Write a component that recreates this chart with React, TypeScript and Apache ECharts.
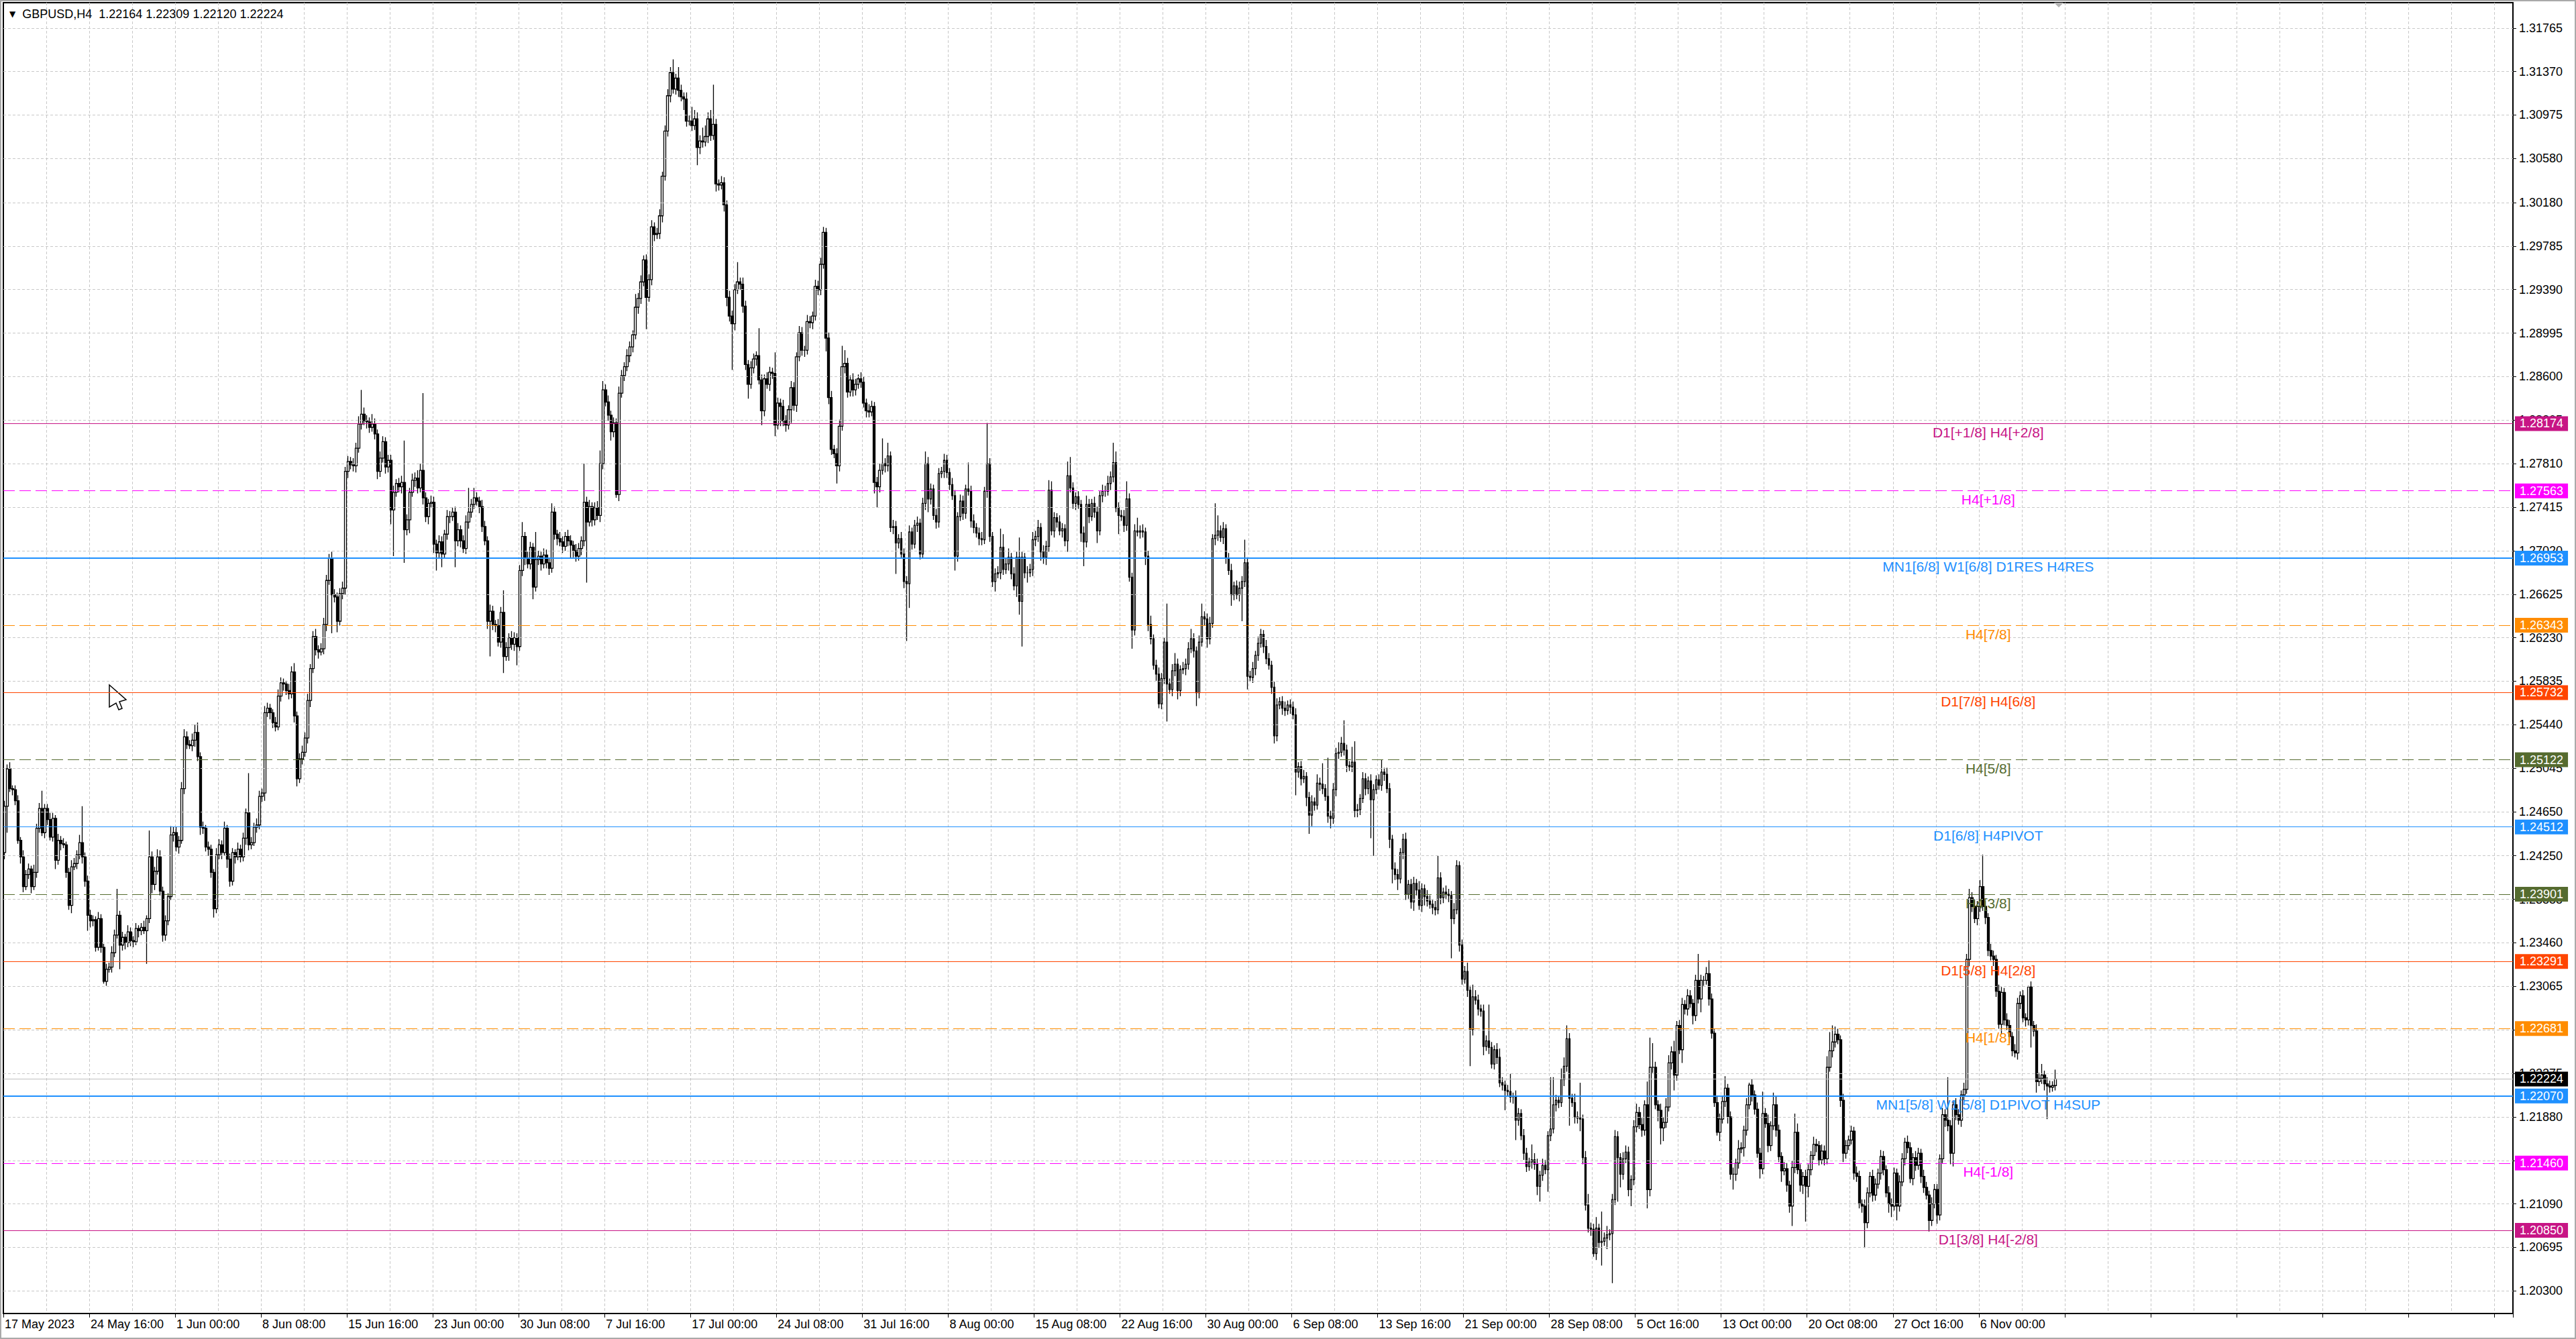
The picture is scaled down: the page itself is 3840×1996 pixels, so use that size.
import React, { useEffect, useRef } from 'react';
import * as echarts from 'echarts';

// GBPUSD H4, one candle per 4 hours from 17 May 2023 08:00.
// Prices are stored in pips above 1.20000 (470 = 1.24700). Open of a bar = close of the bar before.
const firstOpenPips = 428;

// one row = 16 bars (one vertical grid cell)
const closePips = [
  470, 504, 486, 485, 475, 439, 424, 397, 408, 413, 397, 410, 450, 468, 446, 468,
  458, 442, 459, 421, 439, 436, 435, 410, 380, 415, 418, 426, 437, 424, 402, 371,
  366, 367, 342, 368, 342, 311, 322, 324, 337, 353, 371, 344, 351, 346, 356, 348,
  347, 359, 357, 360, 357, 368, 424, 399, 411, 424, 393, 353, 366, 388, 444, 446,
  433, 439, 486, 533, 526, 525, 530, 537, 515, 451, 450, 433, 431, 410, 377, 426,
  435, 428, 450, 422, 402, 428, 424, 431, 424, 441, 464, 435, 437, 451, 453, 479,
  482, 555, 559, 555, 546, 542, 570, 582, 581, 575, 572, 592, 552, 495, 513, 519,
  532, 566, 595, 624, 612, 610, 613, 635, 675, 695, 662, 660, 638, 663, 668, 774,
  783, 780, 779, 795, 817, 826, 820, 819, 814, 817, 808, 774, 786, 801, 778, 784,
  739, 755, 763, 760, 764, 721, 730, 755, 766, 768, 759, 775, 750, 733, 745, 746,
  708, 700, 710, 699, 717, 733, 733, 737, 711, 721, 711, 704, 728, 737, 744, 750,
  747, 742, 724, 711, 638, 647, 635, 634, 619, 646, 606, 614, 623, 617, 623, 615,
  684, 715, 695, 690, 705, 669, 694, 697, 690, 698, 691, 686, 737, 717, 713, 710,
  706, 715, 711, 707, 702, 697, 704, 711, 746, 728, 742, 730, 741, 734, 781, 848,
  837, 825, 810, 818, 753, 845, 861, 869, 879, 887, 898, 923, 931, 946, 966, 932,
  948, 996, 989, 990, 1006, 1042, 1083, 1115, 1136, 1121, 1131, 1120, 1114, 1112, 1092, 1092,
  1088, 1094, 1068, 1074, 1073, 1078, 1094, 1079, 1089, 1035, 1034, 1036, 1016, 932, 915, 908,
  939, 946, 944, 924, 871, 853, 868, 876, 879, 857, 829, 858, 853, 864, 863, 816,
  836, 833, 820, 816, 830, 850, 834, 878, 900, 884, 884, 910, 909, 915, 942, 939,
  962, 991, 895, 841, 794, 790, 779, 815, 869, 872, 846, 857, 848, 853, 858, 855,
  836, 829, 828, 833, 764, 760, 775, 781, 779, 788, 723, 724, 709, 713, 699, 674,
  672, 719, 708, 725, 727, 699, 745, 781, 749, 758, 734, 728, 772, 774, 784, 773,
  762, 752, 697, 733, 747, 736, 758, 756, 729, 723, 718, 713, 712, 756, 781, 715,
  674, 681, 682, 705, 685, 690, 696, 681, 670, 696, 656, 696, 682, 682, 685, 712,
  715, 723, 701, 696, 706, 757, 720, 732, 728, 720, 722, 711, 770, 759, 745, 751,
  744, 718, 710, 744, 733, 745, 737, 720, 752, 756, 756, 763, 769, 782, 741, 734,
  733, 725, 749, 678, 630, 720, 719, 720, 719, 697, 635, 622, 598, 590, 563, 586,
  619, 581, 576, 593, 599, 575, 594, 595, 599, 613, 622, 611, 573, 619, 642, 640,
  622, 636, 713, 716, 720, 714, 722, 695, 684, 662, 670, 662, 668, 674, 691, 588,
  587, 595, 607, 618, 626, 615, 604, 598, 578, 534, 562, 565, 559, 557, 562, 560,
  553, 501, 506, 495, 497, 478, 462, 474, 471, 491, 490, 486, 479, 461, 459, 485,
  518, 519, 527, 521, 507, 506, 510, 466, 467, 477, 495, 486, 493, 476, 485, 494,
  489, 501, 499, 486, 440, 413, 408, 404, 428, 440, 390, 399, 383, 400, 394, 380,
  395, 388, 384, 381, 378, 376, 405, 387, 392, 390, 389, 368, 376, 416, 344, 313,
  320, 303, 267, 297, 294, 286, 284, 252, 257, 251, 236, 249, 242, 219, 217, 212,
  211, 206, 206, 185, 191, 171, 155, 143, 147, 149, 145, 125, 135, 144, 140, 171,
  177, 199, 203, 201, 222, 234, 259, 205, 201, 188, 187, 186, 151, 108, 87, 86,
  64, 87, 74, 75, 78, 81, 82, 113, 170, 151, 136, 150, 156, 122, 131, 179,
  192, 181, 176, 199, 122, 233, 233, 199, 194, 178, 183, 197, 237, 247, 226, 271,
  249, 290, 286, 298, 291, 280, 312, 295, 312, 312, 318, 295, 264, 201, 174, 186,
  202, 214, 188, 136, 136, 146, 159, 160, 176, 199, 217, 208, 195, 155, 141, 191,
  182, 162, 180, 199, 176, 152, 139, 141, 126, 107, 142, 174, 140, 126, 134, 125,
  140, 153, 163, 162, 149, 157, 150, 233, 248, 256, 263, 258, 203, 155, 162, 167,
  175, 137, 134, 109, 107, 92, 119, 134, 117, 127, 137, 152, 140, 119, 109, 107,
  137, 107, 129, 150, 165, 160, 132, 151, 144, 155, 134, 124, 117, 94, 109, 122,
  99, 150, 190, 185, 180, 155, 199, 190, 185, 208, 213, 331, 387, 379, 368, 379,
  397, 379, 369, 339, 334, 331, 302, 272, 301, 276, 271, 261, 248, 246, 291, 298,
  278, 276, 306, 271, 266, 220, 223, 226, 218, 216, 215, 216.4, 222.4,
];

// high = max(open, close) + upper wick, low = min(open, close) - lower wick (pips)
const upWickPips = [
  5, 4, 6, 3, 4, 5, 3, 6, 4, 5, 3, 7, 4, 5, 16, 4,
  4, 6, 5, 3, 6, 4, 5, 3, 4, 6, 5, 4, 7, 33, 4, 5,
  5, 4, 3, 6, 4, 3, 5, 4, 6, 5, 24, 4, 5, 3, 6, 4,
  4, 5, 3, 4, 6, 3, 24, 5, 4, 7, 6, 4, 5, 3, 8, 5,
  5, 4, 6, 7, 5, 4, 6, 7, 9, 4, 5, 3, 5, 4, 3, 6,
  5, 4, 6, 3, 5, 4, 3, 6, 4, 5, 4, 36, 5, 4, 6, 5,
  4, 6, 5, 4, 3, 5, 6, 5, 4, 3, 6, 5, 8, 4, 5, 6,
  5, 6, 4, 5, 7, 4, 5, 6, 5, 4, 6, 5, 4, 5, 6, 4,
  5, 4, 6, 5, 7, 22, 6, 5, 4, 9, 5, 4, 6, 5, 4, 5,
  5, 6, 4, 5, 6, 38, 5, 4, 6, 5, 7, 6, 70, 5, 4, 6,
  5, 4, 6, 5, 4, 6, 5, 4, 5, 6, 4, 5, 6, 22, 5, 9,
  5, 4, 6, 5, 4, 6, 5, 4, 6, 5, 20, 5, 4, 6, 5, 4,
  5, 13, 4, 6, 5, 4, 25, 5, 4, 6, 5, 4, 8, 5, 4, 6,
  5, 4, 6, 5, 4, 6, 5, 4, 35, 5, 6, 4, 5, 6, 12, 8,
  5, 6, 4, 5, 4, 6, 5, 4, 6, 5, 4, 12, 5, 6, 4, 5,
  5, 6, 4, 5, 6, 4, 5, 6, 5, 12, 4, 10, 5, 4, 6, 5,
  13, 8, 6, 5, 12, 10, 6, 8, 36, 5, 4, 6, 5, 4, 6, 5,
  5, 18, 4, 6, 5, 4, 6, 5, 4, 25, 5, 4, 6, 5, 4, 19,
  5, 4, 6, 5, 4, 6, 5, 4, 6, 5, 4, 6, 5, 4, 6, 5,
  6, 5, 4, 5, 6, 4, 5, 6, 19, 12, 5, 4, 6, 5, 4, 6,
  5, 4, 6, 5, 4, 5, 6, 23, 5, 12, 4, 6, 5, 4, 6, 5,
  5, 6, 4, 5, 6, 4, 5, 11, 6, 5, 4, 6, 5, 4, 6, 5,
  4, 6, 5, 4, 6, 5, 4, 24, 5, 6, 4, 5, 6, 4, 37, 5,
  4, 5, 6, 17, 12, 5, 8, 4, 6, 5, 18, 5, 4, 6, 5, 7,
  5, 7, 4, 6, 5, 9, 8, 5, 4, 6, 5, 4, 13, 17, 5, 4,
  5, 4, 6, 8, 5, 4, 6, 5, 4, 6, 5, 7, 5, 18, 10, 5,
  5, 6, 16, 5, 4, 6, 12, 5, 6, 4, 5, 8, 4, 5, 6, 5,
  4, 35, 5, 6, 10, 5, 4, 6, 5, 6, 9, 5, 4, 6, 12, 5,
  5, 6, 4, 29, 14, 5, 6, 4, 5, 6, 4, 5, 6, 5, 21, 5,
  5, 6, 4, 6, 5, 4, 6, 5, 4, 5, 6, 4, 5, 6, 4, 5,
  5, 6, 4, 5, 6, 4, 5, 6, 4, 8, 5, 19, 4, 35, 5, 6,
  5, 9, 6, 21, 5, 4, 14, 19, 5, 4, 6, 5, 4, 6, 5, 4,
  5, 11, 4, 6, 5, 4, 6, 5, 4, 5, 6, 4, 5, 6, 4, 8,
  5, 4, 6, 5, 4, 6, 20, 5, 4, 6, 5, 4, 6, 5, 4, 5,
  5, 8, 4, 11, 6, 5, 4, 6, 5, 33, 5, 4, 6, 8, 5, 4,
  5, 16, 4, 6, 5, 4, 6, 5, 4, 14, 6, 5, 4, 6, 5, 4,
  47, 25, 5, 4, 10, 8, 12, 5, 4, 8, 5, 32, 4, 6, 10, 5,
  5, 10, 4, 27, 5, 8, 4, 5, 6, 5, 4, 6, 6, 5, 4, 6,
  8, 5, 6, 4, 21, 27, 22, 5, 4, 6, 5, 8, 7, 5, 10, 4,
  5, 6, 4, 6, 5, 4, 5, 24, 5, 4, 6, 12, 5, 4, 6, 5,
  5, 11, 4, 5, 6, 4, 8, 5, 4, 6, 2, 5, 4, 6, 5, 20,
  5, 8, 4, 11, 8, 5, 4, 6, 5, 4, 6, 17, 8, 5, 4, 6,
  5, 4, 7, 5, 4, 6, 5, 10, 17, 15, 7, 5, 4, 6, 5, 4,
  5, 4, 6, 5, 4, 6, 5, 4, 6, 5, 4, 6, 5, 4, 6, 5,
  5, 4, 6, 5, 4, 6, 5, 4, 6, 5, 4, 6, 5, 4, 6, 5,
  5, 4, 6, 5, 39, 5, 4, 6, 5, 4, 6, 5, 8, 5, 6, 5,
  6, 29, 5, 4, 6, 5, 4, 6, 5, 4, 6, 5, 4, 6, 5, 4,
  5, 4, 1, 5, 4, 6, 5, 10, 4, 6, 5, 4, 8.5,
];

const downWickPips = [
  6, 24, 3, 5, 4, 3, 6, 5, 3, 4, 6, 3, 5, 4, 3, 5,
  5, 3, 4, 8, 4, 6, 3, 5, 4, 7, 3, 5, 4, 6, 5, 14,
  6, 5, 4, 3, 5, 2, 4, 3, 5, 4, 3, 22, 5, 6, 4, 5,
  5, 3, 6, 4, 3, 30, 4, 8, 5, 3, 4, 6, 5, 4, 3, 6,
  4, 6, 3, 5, 4, 3, 5, 6, 4, 7, 5, 4, 6, 5, 8, 4,
  4, 6, 3, 8, 5, 4, 6, 3, 5, 4, 6, 5, 4, 3, 5, 4,
  5, 7, 4, 6, 5, 4, 3, 5, 6, 4, 5, 4, 6, 7, 4, 5,
  4, 5, 6, 4, 5, 6, 3, 5, 6, 4, 35, 5, 10, 4, 5, 6,
  6, 4, 5, 6, 4, 5, 4, 6, 5, 4, 5, 7, 5, 4, 6, 5,
  13, 42, 4, 5, 6, 30, 5, 12, 4, 6, 5, 4, 6, 5, 7, 4,
  8, 16, 5, 12, 4, 5, 6, 4, 24, 5, 6, 4, 5, 6, 5, 4,
  4, 6, 5, 4, 7, 32, 5, 6, 4, 5, 15, 4, 12, 5, 6, 17,
  4, 5, 6, 4, 5, 11, 4, 5, 6, 4, 5, 6, 4, 5, 6, 4,
  6, 4, 5, 12, 6, 5, 4, 6, 5, 55, 4, 6, 5, 4, 6, 5,
  4, 5, 8, 5, 3, 6, 4, 5, 4, 6, 5, 4, 6, 5, 4, 29,
  4, 5, 6, 4, 5, 6, 4, 5, 6, 4, 5, 6, 4, 10, 5, 4,
  5, 4, 16, 6, 5, 4, 6, 5, 4, 7, 5, 4, 6, 8, 5, 42,
  6, 4, 5, 6, 5, 13, 4, 5, 6, 4, 13, 5, 4, 6, 5, 10,
  4, 18, 5, 6, 4, 12, 5, 6, 4, 5, 6, 4, 5, 6, 4, 5,
  5, 4, 12, 6, 5, 4, 16, 5, 4, 6, 5, 4, 6, 5, 4, 5,
  4, 6, 5, 4, 10, 19, 5, 4, 6, 5, 4, 6, 28, 5, 4, 6,
  52, 22, 5, 4, 6, 5, 4, 6, 12, 5, 4, 6, 5, 4, 6, 5,
  5, 4, 13, 5, 4, 6, 5, 4, 6, 5, 4, 6, 5, 4, 6, 5,
  5, 9, 4, 6, 5, 4, 6, 5, 4, 10, 12, 41, 5, 9, 4, 6,
  6, 5, 8, 6, 7, 5, 4, 6, 5, 4, 6, 5, 10, 4, 5, 6,
  4, 8, 22, 5, 6, 4, 5, 11, 4, 6, 5, 4, 6, 5, 4, 17,
  4, 6, 5, 4, 17, 5, 4, 6, 5, 8, 6, 5, 4, 6, 4, 5,
  5, 34, 4, 6, 5, 8, 5, 4, 6, 5, 4, 6, 12, 5, 4, 6,
  8, 5, 4, 6, 5, 4, 6, 5, 4, 10, 5, 4, 6, 30, 5, 12,
  4, 5, 6, 5, 4, 6, 5, 4, 6, 7, 5, 4, 6, 5, 4, 6,
  4, 21, 5, 6, 4, 8, 17, 10, 5, 4, 6, 5, 4, 6, 9, 5,
  6, 5, 4, 5, 6, 4, 5, 6, 6, 5, 4, 6, 5, 35, 51, 4,
  4, 5, 6, 4, 8, 13, 5, 10, 4, 6, 5, 4, 6, 8, 5, 4,
  6, 8, 5, 4, 6, 5, 4, 6, 5, 4, 6, 36, 5, 4, 6, 5,
  4, 6, 33, 5, 4, 6, 5, 8, 4, 6, 4, 5, 6, 4, 5, 18,
  4, 5, 6, 18, 5, 4, 6, 5, 4, 6, 5, 8, 14, 5, 4, 20,
  5, 4, 6, 5, 4, 6, 5, 25, 4, 6, 5, 11, 6, 5, 4, 6,
  3, 6, 5, 21, 4, 10, 5, 45, 5, 40, 12, 5, 4, 6, 15, 5,
  5, 4, 6, 5, 17, 6, 5, 4, 10, 15, 12, 5, 4, 6, 14, 5,
  4, 12, 5, 6, 4, 8, 5, 4, 12, 5, 4, 6, 5, 4, 3, 8,
  4, 5, 6, 5, 14, 6, 5, 4, 8, 5, 4, 6, 5, 4, 9, 5,
  4, 6, 5, 4, 6, 5, 10, 4, 6, 6, 18, 5, 4, 6, 8, 32,
  10, 5, 4, 6, 5, 4, 6, 5, 4, 6, 5, 4, 6, 8, 5, 4,
  4, 6, 5, 4, 6, 23, 5, 4, 6, 5, 4, 6, 5, 4, 8, 10,
  4, 13, 5, 4, 6, 5, 4, 6, 5, 4, 6, 5, 4, 10, 5, 4,
  8, 5, 4, 6, 5, 10, 12, 5, 4, 6, 5, 4, 6, 5, 4, 6,
  5, 4, 6, 5, 4, 6, 5, 4, 9, 5, 4, 6, 5, 4, 6, 5,
  4, 6, 5, 20, 5, 10, 4, 5, 6, 30, 5, 4, 4.4,
];

// one time label every 32 bars
const timeLabels = [
  '17 May 2023', '24 May 16:00', '1 Jun 00:00', '8 Jun 08:00', '15 Jun 16:00', '23 Jun 00:00',
  '30 Jun 08:00', '7 Jul 16:00', '17 Jul 00:00', '24 Jul 08:00', '31 Jul 16:00', '8 Aug 00:00',
  '15 Aug 08:00', '22 Aug 16:00', '30 Aug 00:00', '6 Sep 08:00', '13 Sep 16:00', '21 Sep 00:00',
  '28 Sep 08:00', '5 Oct 16:00', '13 Oct 00:00', '20 Oct 08:00', '27 Oct 16:00', '6 Nov 00:00',
];

const priceTicks = [
  1.31765, 1.3137, 1.30975, 1.3058, 1.3018, 1.29785, 1.2939, 1.28995, 1.286, 1.28205,
  1.2781, 1.27415, 1.2702, 1.26625, 1.2623, 1.25835, 1.2544, 1.25045, 1.2465, 1.2425,
  1.23855, 1.2346, 1.23065, 1.2267, 1.22275, 1.2188, 1.21485, 1.2109, 1.20695, 1.203,
];

const levelPrices = [
  1.28174, 1.27563, 1.26953, 1.26343, 1.25732, 1.25122, 1.24512,
  1.23901, 1.23291, 1.22681, 1.2207, 1.2146, 1.2085,
];
const levelTexts = [
  'D1[+1/8] H4[+2/8]', 'H4[+1/8]', 'MN1[6/8] W1[6/8] D1RES H4RES', 'H4[7/8]',
  'D1[7/8] H4[6/8]', 'H4[5/8]', 'D1[6/8] H4PIVOT', 'H4[3/8]', 'D1[5/8] H4[2/8]',
  'H4[1/8]', 'MN1[5/8] W1[5/8] D1PIVOT H4SUP', 'H4[-1/8]', 'D1[3/8] H4[-2/8]',
];

// styles of the level lines, same order as levelPrices
const levelStyles = [
  { color: '#C71585', dashed: false, width: 1 },
  { color: '#FF00FF', dashed: true, width: 1 },
  { color: '#1E90FF', dashed: false, width: 2 },
  { color: '#FF8C00', dashed: true, width: 1 },
  { color: '#FF4500', dashed: false, width: 1 },
  { color: '#556B2F', dashed: true, width: 1 },
  { color: '#1E90FF', dashed: false, width: 1 },
  { color: '#556B2F', dashed: true, width: 1 },
  { color: '#FF4500', dashed: false, width: 1 },
  { color: '#FF8C00', dashed: true, width: 1 },
  { color: '#1E90FF', dashed: false, width: 2 },
  { color: '#FF00FF', dashed: true, width: 1 },
  { color: '#C71585', dashed: false, width: 1 },
];

const FONT = '"Liberation Sans", Arial, sans-serif';
const SLOTS = 935; // bars + empty chart shift on the right
const LABEL_SLOT = '739'; // where the level names sit

export default function App() {
  const chartRef = useRef<HTMLDivElement>(null);

  useEffect(() => {
    document.body.style.margin = '0';
    if (!chartRef.current) return;
    const chart = echarts.init(chartRef.current, null, { renderer: 'svg' });

    const toPrice = (p: number) => +(1.2 + p / 10000).toFixed(5);
    const candles = closePips.map((c, i) => {
      const o = i === 0 ? firstOpenPips : closePips[i - 1];
      const hi = Math.max(o, c) + upWickPips[i];
      const lo = Math.min(o, c) - downWickPips[i];
      return [toPrice(o), toPrice(c), toPrice(lo), toPrice(hi)];
    });
    const last = candles[candles.length - 1];
    const slots = Array.from({ length: SLOTS }, (_, i) => String(i));
    const grey = '#c8c8c8';

    const tag = (text: string, bg: string) => ({
      show: true,
      position: 'end',
      distance: 3,
      formatter: text,
      color: '#ffffff',
      backgroundColor: bg,
      padding: [2, 7, 2, 7],
      fontSize: 18,
      lineHeight: 18,
      fontFamily: FONT,
    });

    const levelLines: any[] = levelPrices.map((p, k) => ({
      yAxis: p,
      lineStyle: {
        color: levelStyles[k].color,
        width: levelStyles[k].width,
        type: levelStyles[k].dashed ? [17, 7] : 'solid',
      },
      label: tag(p.toFixed(5), levelStyles[k].color),
    }));
    // current bid line
    levelLines.push({
      yAxis: last[1],
      lineStyle: { color: '#c0c0c0', width: 1, type: 'solid' },
      label: tag(last[1].toFixed(5), '#000000'),
    });

    const option: any = {
      animation: false,
      backgroundColor: '#ffffff',
      textStyle: { fontFamily: FONT },
      title: {
        left: 9,
        top: 7,
        text: `{m|▼}  GBPUSD,H4  ${last[0].toFixed(5)} ${last[3].toFixed(5)} ${last[2].toFixed(5)} ${last[1].toFixed(5)}`,
        textStyle: {
          fontSize: 18,
          fontWeight: 'normal',
          color: '#000',
          fontFamily: FONT,
          rich: { m: { fontSize: 12, fontFamily: '"DejaVu Sans", sans-serif', color: '#000' } },
        },
      },
      grid: {
        left: 5,
        right: 94,
        top: 4,
        bottom: 38,
        show: true,
        borderColor: '#000',
        borderWidth: 2,
      },
      xAxis: {
        type: 'category',
        data: slots,
        boundaryGap: true,
        axisLine: { show: true, lineStyle: { color: '#000', width: 2 } },
        axisTick: {
          show: true,
          interval: (i: number) => i % 32 === 0,
          length: 6,
          lineStyle: { color: '#000', width: 1 },
        },
        axisLabel: {
          show: true,
          interval: (i: number) => i % 32 === 0 && i / 32 < timeLabels.length,
          formatter: (_v: string, i: number) => timeLabels[i / 32] ?? '',
          align: 'left',
          color: '#000',
          fontSize: 18,
          fontFamily: FONT,
          margin: 7,
        },
        splitLine: {
          show: true,
          interval: (i: number) => i > 0 && i % 16 === 0,
          lineStyle: { color: grey, type: [4, 3], width: 1 },
        },
      },
      yAxis: {
        type: 'value',
        position: 'right',
        min: 1.20095,
        max: 1.31995,
        axisLine: { show: true, lineStyle: { color: '#000', width: 2 } },
        axisTick: { show: true, customValues: priceTicks, length: 5, lineStyle: { color: '#000' } },
        axisLabel: {
          show: true,
          customValues: priceTicks,
          formatter: (v: number) => v.toFixed(5),
          color: '#000',
          fontSize: 18,
          fontFamily: FONT,
          margin: 9,
        },
        splitLine: { show: false },
      },
      series: [
        {
          type: 'line',
          name: 'grid',
          data: [],
          z: 1,
          silent: true,
          markLine: {
            silent: true,
            symbol: ['none', 'none'],
            precision: 5,
            label: { show: false },
            lineStyle: { color: grey, type: [4, 3], width: 1 },
            data: priceTicks.map((v) => ({ yAxis: v })),
          },
        },
        {
          type: 'candlestick',
          name: 'GBPUSD,H4',
          data: candles,
          z: 2,
          barWidth: 3.2,
          large: false,
          progressive: 0,
          itemStyle: {
            color: '#ffffff',
            color0: '#000000',
            borderColor: '#000000',
            borderColor0: '#000000',
            borderWidth: 1.3,
          },
        },
        {
          type: 'line',
          name: 'levels',
          data: [],
          z: 3,
          silent: true,
          markLine: {
            silent: true,
            symbol: ['none', 'none'],
            precision: 5,
            data: levelLines,
          },
          markPoint: {
            silent: true,
            symbol: 'rect',
            symbolSize: 1,
            itemStyle: { color: 'rgba(0,0,0,0)' },
            data: levelTexts.map((t, k) => ({
              name: t,
              coord: [LABEL_SLOT, levelPrices[k]],
              label: {
                show: true,
                position: 'bottom',
                distance: 2,
                formatter: t,
                color: levelStyles[k].color,
                fontSize: 21,
                fontFamily: FONT,
              },
            })),
          },
        },
      ],
      graphic: [
        {
          type: 'rect',
          silent: true,
          shape: { x: 1, y: 1, width: 3838, height: 1994 },
          style: { fill: 'none', stroke: '#a9a9a9', lineWidth: 2 },
        },
        {
          type: 'polygon',
          silent: true,
          shape: { points: [[3062, 4], [3076, 4], [3069, 11]] },
          style: { fill: '#b4b4b4' },
        },
        {
          type: 'polygon',
          silent: true,
          shape: {
            points: [[163, 1021], [188, 1043], [178, 1046], [182, 1056], [177, 1058], [173, 1048], [163, 1054]],
          },
          style: { fill: '#ffffff', stroke: '#000000', lineWidth: 1.5 },
        },
      ],
    };

    chart.setOption(option);

    return () => {
      chart.dispose();
    };
  }, []);

  return <div ref={chartRef} style={{ width: '3840px', height: '1996px' }} />;
}
